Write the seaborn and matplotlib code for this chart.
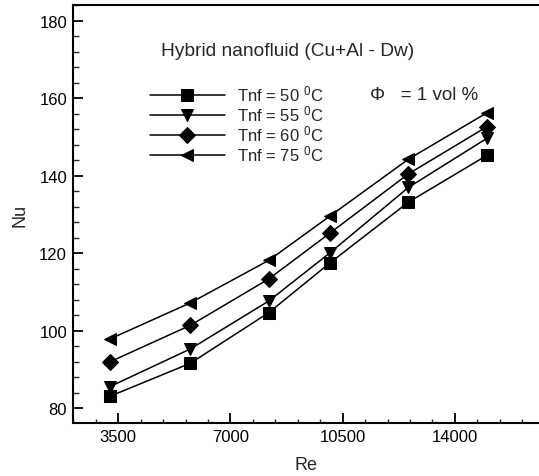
import matplotlib
matplotlib.use("Agg")
import matplotlib.pyplot as plt
import seaborn as sns
import pandas as pd
from matplotlib.ticker import MultipleLocator

# Reynolds numbers and Nusselt numbers for each nanofluid inlet temperature
re_values = [3250, 5750, 8200, 10100, 12550, 15000]
nu_50 = [83.1, 91.6, 104.7, 117.5, 133.2, 145.3]
nu_55 = [85.6, 95.3, 107.7, 120.1, 137.0, 149.7]
nu_60 = [92.0, 101.4, 113.4, 125.2, 140.5, 152.7]
nu_75 = [97.9, 107.2, 118.2, 129.6, 144.3, 156.3]
series_labels = ["Tnf = 50 $^{0}$C", "Tnf = 55 $^{0}$C",
                 "Tnf = 60 $^{0}$C", "Tnf = 75 $^{0}$C"]
x_ticks = [3500, 7000, 10500, 14000]
y_ticks = [80, 100, 120, 140, 160, 180]

frames = []
for lab, vals in zip(series_labels, [nu_50, nu_55, nu_60, nu_75]):
    frames.append(pd.DataFrame({"Re": re_values, "Nu": vals, "series": lab}))
df = pd.concat(frames, ignore_index=True)

sns.set_style("ticks")
plt.rcParams["font.family"] = ["Liberation Sans", "DejaVu Sans"]
plt.rcParams["mathtext.fontset"] = "custom"
plt.rcParams["mathtext.rm"] = "Liberation Sans"
plt.rcParams["mathtext.it"] = "Liberation Sans"

fig = plt.figure(figsize=(5.39, 4.77), dpi=100)
ax = fig.add_axes([0.136, 0.1105, 0.864, 0.8775])

markers = dict(zip(series_labels, ["s", "v", "D", "<"]))
sns.lineplot(data=df, x="Re", y="Nu", style="series", markers=markers,
             dashes=False, color="black", markersize=8.5, linewidth=1.1,
             markeredgecolor="black", ax=ax, legend=True)

ax.set_xlim(2100, 16624)
ax.set_ylim(76.1, 184.2)
ax.set_xticks(x_ticks)
ax.set_yticks(y_ticks)
ax.xaxis.set_minor_locator(MultipleLocator(700))
ax.yaxis.set_minor_locator(MultipleLocator(4))
ax.tick_params(axis="both", which="major", direction="in", length=7,
               width=1.3, labelsize=12, colors="black")
ax.tick_params(axis="x", which="minor", direction="in", length=3.2, width=1)
ax.tick_params(axis="y", which="minor", direction="in", length=4.5, width=1)
ax.tick_params(axis="x", which="major", pad=4)
ax.tick_params(axis="y", which="major", pad=4.5)
ax.spines["right"].set_visible(False)
for name in ("left", "bottom", "top"):
    ax.spines[name].set_linewidth(1.5)
    ax.spines[name].set_color("black")

ax.set_xlabel("Re", fontsize=13, labelpad=9)
ax.set_ylabel("Nu", fontsize=13, labelpad=8)

leg = ax.legend(loc="upper left", bbox_to_anchor=(0.150, 0.8266),
                frameon=False, fontsize=12, handlelength=4.5,
                handletextpad=0.72, labelspacing=0.0, borderaxespad=0)
for line in leg.get_lines():
    line.set_linewidth(1.1)

ax.text(0.4606, 0.890, "Hybrid nanofluid (Cu+Al - Dw)",
        transform=ax.transAxes, fontsize=13.8, ha="center", va="center")
ax.text(0.638, 0.7867, "\u03A6   = 1 vol %", transform=ax.transAxes,
        fontsize=13.5, ha="left", va="center")

fig.savefig("out.png", dpi=100)
